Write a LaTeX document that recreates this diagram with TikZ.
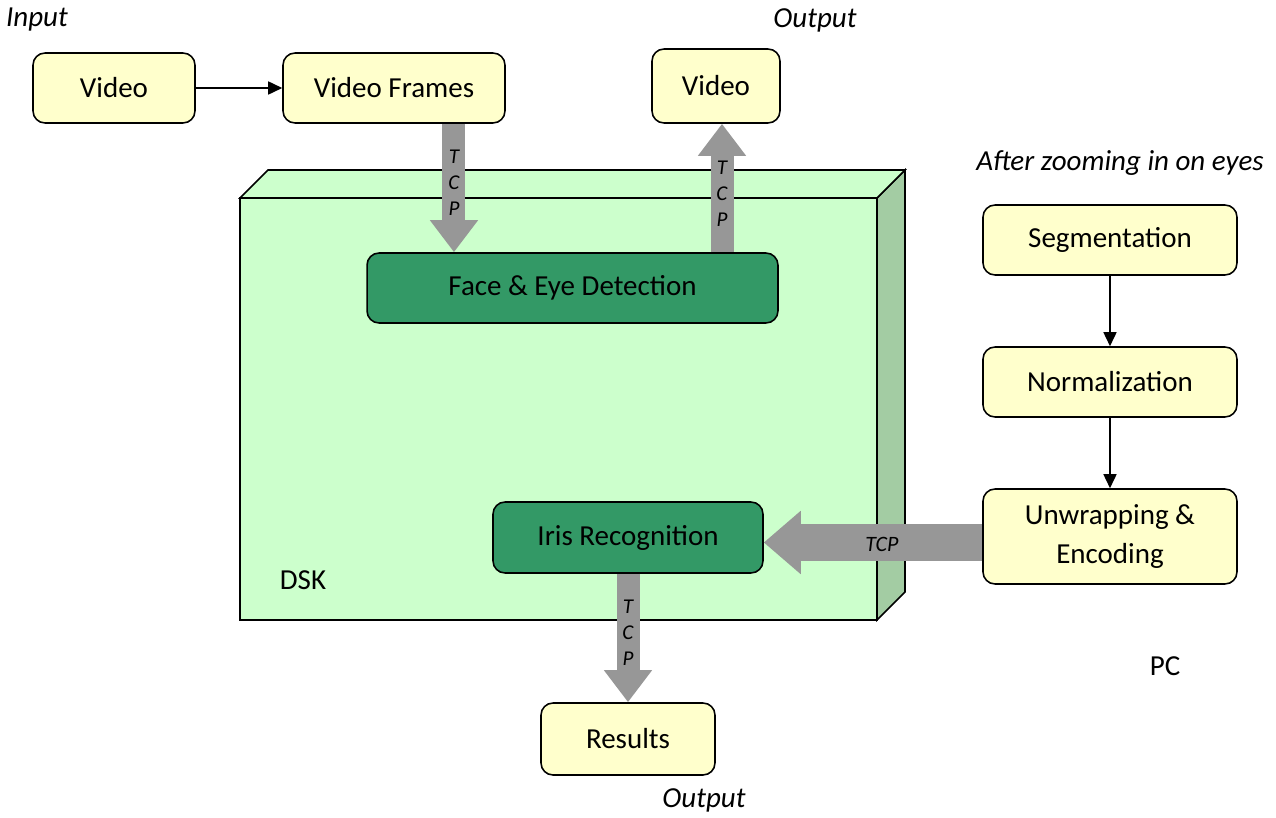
\documentclass[tikz,border=0pt]{standalone}
\usepackage{fontspec}
\setmainfont{Carlito}
\usepackage{xcolor}
\usetikzlibrary{arrows.meta, positioning, calc}
\definecolor{boxyel}{HTML}{FFFFCC}
\definecolor{dskgrn}{HTML}{339966}
\definecolor{dskfront}{HTML}{CCFFCC}
\definecolor{dskside}{HTML}{A3CCA3}
\definecolor{tcpgray}{HTML}{979797}
\tikzset{
  blk/.style={rectangle, draw=black, line width=0.9pt, fill=boxyel, rounded corners=0.24cm,
              font=\fontsize{16.5}{22.7}\selectfont, align=center, inner sep=2pt},
  grnblk/.style={blk, fill=dskgrn},
  lbl/.style={font=\fontsize{16.5}{19}\selectfont\itshape, inner sep=1pt},
  plain/.style={font=\fontsize{16.5}{19}\selectfont, inner sep=1pt},
  arc/.style={-{Triangle[length=0.28cm, width=0.26cm]}, line width=0.9pt},
  tcp/.style={draw=tcpgray, line width=0.46cm, -{Triangle[length=0.64cm, width=0.92cm]}, tcpgray},
  widetcp/.style={draw=tcpgray, line width=0.74cm, -{Triangle[length=0.74cm, width=1.22cm]}, tcpgray},
  tcplbl/.style={font=\fontsize{12}{14.7}\selectfont\itshape, align=center, inner sep=0pt}
}
\begin{document}
\begin{tikzpicture}[x=0.02cm, y=-0.02cm]
  \useasboundingbox (0,0) rectangle (1276,818);
  % input side
  \node[lbl] (in) at (37,20) {Input};
  \node[blk, minimum width=3.24cm, minimum height=1.4cm] (vin) at (114,88) {Video};
  \node[blk, minimum width=4.44cm, minimum height=1.4cm] (vf) at (394,88) {Video Frames};
  \node[lbl] (outa) at (815,20) {Output};
  \node[blk, minimum width=2.56cm, minimum height=1.48cm] (vout) at (716,86) {Video};
  % DSK board
  \filldraw[fill=dskside, line width=0.9pt] (877,198) -- (905,170) -- (905,592) -- (877,620) -- cycle;
  \filldraw[fill=dskfront, line width=0.9pt] (268,170) -- (905,170) -- (877,198) -- (240,198) -- cycle;
  \filldraw[fill=dskfront, line width=0.9pt] (240,198) rectangle (877,620);
  \node[grnblk, minimum width=8.22cm, minimum height=1.4cm] (fe) at (572.5,288) {Face \& Eye Detection};
  \node[grnblk, minimum width=5.4cm, minimum height=1.42cm] (iris) at (628,537.5) {Iris Recognition};
  \node[plain] (dsk) at (303,580) {DSK};
  \node[blk, minimum width=3.48cm, minimum height=1.44cm] (res) at (628,739) {Results};
  \node[lbl] (outb) at (704,800) {Output};
  % PC side
  \node[lbl] (after) at (1120,163) {After zooming in on eyes};
  \node[blk, minimum width=5.08cm, minimum height=1.4cm] (seg) at (1110,240) {Segmentation};
  \node[blk, minimum width=5.08cm, minimum height=1.4cm] (norm) at (1110,382) {Normalization};
  \node[blk, minimum width=5.08cm, minimum height=1.9cm] (unw) at (1110,536.5) {Unwrapping \&\\Encoding};
  \node[plain] (pc) at (1165,666) {PC};
  \foreach \a/\b in {vin/vf, seg/norm, norm/unw} \draw[arc] (\a) -- (\b);
  % TCP links
  \draw[tcp] ([xshift=1.2cm]vf.south) -- ([xshift=1.2cm]vf.south |- fe.north);
  \draw[tcp] ([xshift=0.12cm]vout.south |- fe.north) -- ([xshift=0.12cm]vout.south);
  \draw[widetcp] ([yshift=-0.12cm]unw.west) -- ([yshift=-0.12cm]iris.east |- unw.west);
  \draw[tcp] (iris.south) -- (res.north);
  \node[tcplbl] (t1) at (454,183) {T\\C\\P};
  \node[tcplbl] (t2) at (722,194) {T\\C\\P};
  \node[tcplbl] (t3) at (628,633) {T\\C\\P};
  \node[tcplbl, font=\fontsize{12.5}{15}\selectfont\itshape] (t4) at (882,544) {TCP};
\end{tikzpicture}
\end{document}
